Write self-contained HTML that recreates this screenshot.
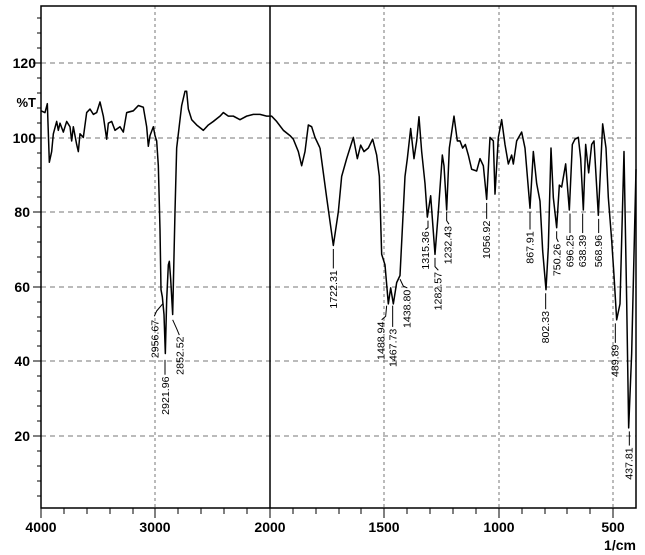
<!DOCTYPE html>
<html><head><meta charset="utf-8"><style>
html,body{margin:0;padding:0;background:#fff;}
svg{display:block;}
text{font-family:"Liberation Sans",Arial,sans-serif;}
</style></head><body>
<svg width="645" height="555" viewBox="0 0 645 555" xmlns="http://www.w3.org/2000/svg">
<rect width="645" height="555" fill="#fff"/>
<!-- grid -->
<g stroke="#777" stroke-width="1" stroke-dasharray="5,4" fill="none">
<line x1="41" y1="63" x2="636" y2="63"/>
<line x1="41" y1="138" x2="636" y2="138"/>
<line x1="41" y1="212" x2="636" y2="212"/>
<line x1="41" y1="287" x2="636" y2="287"/>
<line x1="41" y1="361" x2="636" y2="361"/>
<line x1="41" y1="436" x2="636" y2="436"/>
<line x1="155" y1="6" x2="155" y2="508" stroke-dasharray="3,3"/>
<line x1="384" y1="6" x2="384" y2="508" stroke-dasharray="3,3"/>
<line x1="499" y1="6" x2="499" y2="508" stroke-dasharray="3,3"/>
<line x1="613" y1="6" x2="613" y2="508" stroke-dasharray="3,3"/>
</g>
<line x1="270" y1="6" x2="270" y2="508" stroke="#000" stroke-width="1.5"/>
<rect x="41" y="6" width="595" height="502" fill="none" stroke="#000" stroke-width="1.5"/>
<!-- y ticks -->
<g stroke="#000" stroke-width="1">
<line x1="33" y1="63" x2="41" y2="63"/><line x1="33" y1="138" x2="41" y2="138"/><line x1="33" y1="212" x2="41" y2="212"/><line x1="33" y1="287" x2="41" y2="287"/><line x1="33" y1="361" x2="41" y2="361"/><line x1="33" y1="436" x2="41" y2="436"/>
<line x1="37" y1="18" x2="41" y2="18"/><line x1="37" y1="33" x2="41" y2="33"/><line x1="37" y1="48" x2="41" y2="48"/>
<line x1="37" y1="78" x2="41" y2="78"/><line x1="37" y1="93" x2="41" y2="93"/><line x1="37" y1="108" x2="41" y2="108"/><line x1="37" y1="123" x2="41" y2="123"/>
<line x1="37" y1="153" x2="41" y2="153"/><line x1="37" y1="168" x2="41" y2="168"/><line x1="37" y1="182" x2="41" y2="182"/><line x1="37" y1="197" x2="41" y2="197"/>
<line x1="37" y1="227" x2="41" y2="227"/><line x1="37" y1="242" x2="41" y2="242"/><line x1="37" y1="257" x2="41" y2="257"/><line x1="37" y1="272" x2="41" y2="272"/>
<line x1="37" y1="302" x2="41" y2="302"/><line x1="37" y1="317" x2="41" y2="317"/><line x1="37" y1="331" x2="41" y2="331"/><line x1="37" y1="346" x2="41" y2="346"/>
<line x1="37" y1="376" x2="41" y2="376"/><line x1="37" y1="391" x2="41" y2="391"/><line x1="37" y1="406" x2="41" y2="406"/><line x1="37" y1="421" x2="41" y2="421"/>
<line x1="37" y1="451" x2="41" y2="451"/><line x1="37" y1="466" x2="41" y2="466"/><line x1="37" y1="481" x2="41" y2="481"/><line x1="37" y1="496" x2="41" y2="496"/>
<!-- x ticks -->
<line x1="41" y1="508" x2="41" y2="518"/><line x1="155" y1="508" x2="155" y2="518"/><line x1="270" y1="508" x2="270" y2="518"/><line x1="384" y1="508" x2="384" y2="518"/><line x1="499" y1="508" x2="499" y2="518"/><line x1="613" y1="508" x2="613" y2="518"/>
<line x1="64" y1="508" x2="64" y2="514"/><line x1="87" y1="508" x2="87" y2="514"/><line x1="110" y1="508" x2="110" y2="514"/><line x1="133" y1="508" x2="133" y2="514"/>
<line x1="178" y1="508" x2="178" y2="514"/><line x1="201" y1="508" x2="201" y2="514"/><line x1="224" y1="508" x2="224" y2="514"/><line x1="247" y1="508" x2="247" y2="514"/>
<line x1="293" y1="508" x2="293" y2="514"/><line x1="316" y1="508" x2="316" y2="514"/><line x1="339" y1="508" x2="339" y2="514"/><line x1="361" y1="508" x2="361" y2="514"/>
<line x1="407" y1="508" x2="407" y2="514"/><line x1="430" y1="508" x2="430" y2="514"/><line x1="453" y1="508" x2="453" y2="514"/><line x1="476" y1="508" x2="476" y2="514"/>
<line x1="522" y1="508" x2="522" y2="514"/><line x1="545" y1="508" x2="545" y2="514"/><line x1="567" y1="508" x2="567" y2="514"/><line x1="590" y1="508" x2="590" y2="514"/>
</g>
<g font-size="14" font-weight="bold" fill="#000" text-anchor="end">
<text x="36" y="68">120</text><text x="36" y="143">100</text><text x="30" y="217">80</text><text x="30" y="292">60</text><text x="30" y="366">40</text><text x="30" y="441">20</text>
<text x="36" y="107" font-size="13">%T</text>
</g>
<g font-size="14" font-weight="bold" fill="#000" text-anchor="middle">
<text x="41" y="532">4000</text><text x="155" y="532">3000</text><text x="270" y="532">2000</text><text x="384" y="532">1500</text><text x="499" y="532">1000</text><text x="613" y="532">500</text>
<text x="620" y="550">1/cm</text>
</g>
<g transform="translate(0,-0.76) scale(1,1.0627)">
<!-- spectrum part 1 -->
<g transform="scale(0.33333)">
<polyline fill="none" stroke="#000" stroke-width="4.5" stroke-linejoin="round" points="123,315 135,320 142,295 148,460 155,430 160,380 170,345 175,370 180,350 190,375 200,345 210,360 215,400 220,360 230,410 235,430 240,380 250,390 260,320 270,310 280,325 290,320 300,290 310,330 320,395 325,350 335,345 345,370 360,360 370,375 380,320 400,315 415,300 430,305 440,360 445,415 450,385 460,360 465,385 470,400 475,470 480,650 483,820 487,840 492,890 496,1000 500,850 505,750 508,740 512,790 518,890 525,600 530,420 535,380 545,300 555,260 560,260 565,310 575,340 590,355 610,370 625,355 640,345 660,330 670,320 685,330 700,330 720,340 740,330 760,325 780,325 800,330 815,330 830,345 850,370 870,385 880,395 895,430 905,470 915,430 925,355 935,360 945,390 960,420"/>
<g stroke="#000" stroke-width="3" fill="none">
<polyline points="488,860 470,880 463,895"/>
<line x1="495" y1="1018" x2="495" y2="1060"/>
<polyline points="518,905 530,930 538,948"/>
</g>
<g font-size="30" text-anchor="end" fill="#000">
<text transform="translate(475,905) rotate(-90)">2956.67</text>
<text transform="translate(507,1065) rotate(-90)">2921.96</text>
<text transform="translate(550,952) rotate(-90)">2852.52</text>
</g>
</g>
<!-- spectrum part 2 -->
<g transform="translate(320,0) scale(0.33333)">
<polyline fill="none" stroke="#000" stroke-width="4.5" stroke-linejoin="round" points="0,420 20,560 40,695 55,600 65,500 80,450 100,390 112,450 122,412 132,430 145,420 158,395 170,440 178,500 185,720 195,750 205,860 212,815 220,860 230,800 240,780 255,500 262,450 272,365 282,450 290,400 297,332 305,430 315,520 322,615 332,555 345,720 355,600 367,440 372,470 380,595 388,420 402,330 412,400 420,400 428,420 436,410 445,440 455,480 470,485 480,450 490,470 500,565 510,390 520,400 525,550 535,390 545,340 555,410 565,465 575,440 580,465 590,400 605,375 615,420 630,590 640,430 650,520 660,570 668,710 678,820 685,700 693,420 700,560 710,645 718,525 725,530 737,465 748,595 757,410 765,395 775,390 782,450 790,595 797,410 806,490 815,410 822,400 835,610 848,352 858,420 865,560 875,680 882,780 890,905 900,860 912,430 920,850 926,1210 935,1000 948,480"/>
<g stroke="#000" stroke-width="3" fill="none">
<line x1="40" y1="705" x2="40" y2="760"/>
<polyline points="200,865 197,895 185,905"/>
<line x1="218" y1="865" x2="218" y2="925"/>
<polyline points="240,790 250,810 262,815"/>
<polyline points="324,625 324,645 316,650"/>
<polyline points="345,730 345,755 355,765"/>
<polyline points="380,600 380,625 387,635"/>
<line x1="500" y1="575" x2="500" y2="620"/>
<line x1="630" y1="600" x2="630" y2="650"/>
<line x1="677" y1="830" x2="677" y2="875"/>
<polyline points="710,655 710,675 715,685"/>
<line x1="750" y1="605" x2="750" y2="660"/>
<line x1="788" y1="605" x2="788" y2="660"/>
<line x1="836" y1="620" x2="836" y2="660"/>
<line x1="886" y1="915" x2="886" y2="970"/>
<line x1="928" y1="1220" x2="928" y2="1260"/>
</g>
<g font-size="30" text-anchor="end" fill="#000">
<text transform="translate(51,765) rotate(-90)">1722.31</text>
<text transform="translate(193,910) rotate(-90)">1488.94</text>
<text transform="translate(230,930) rotate(-90)">1467.73</text>
<text transform="translate(272,820) rotate(-90)">1438.80</text>
<text transform="translate(327,655) rotate(-90)">1315.36</text>
<text transform="translate(365,770) rotate(-90)">1282.57</text>
<text transform="translate(395,640) rotate(-90)">1232.43</text>
<text transform="translate(510,625) rotate(-90)">1056.92</text>
<text transform="translate(640,655) rotate(-90)">867.91</text>
<text transform="translate(687,880) rotate(-90)">802.33</text>
<text transform="translate(722,690) rotate(-90)">750.26</text>
<text transform="translate(760,665) rotate(-90)">696.25</text>
<text transform="translate(798,665) rotate(-90)">638.39</text>
<text transform="translate(846,665) rotate(-90)">568.96</text>
<text transform="translate(896,975) rotate(-90)">489.89</text>
<text transform="translate(938,1265) rotate(-90)">437.81</text>
</g>
</g>
</g>
</svg>
</body></html>
